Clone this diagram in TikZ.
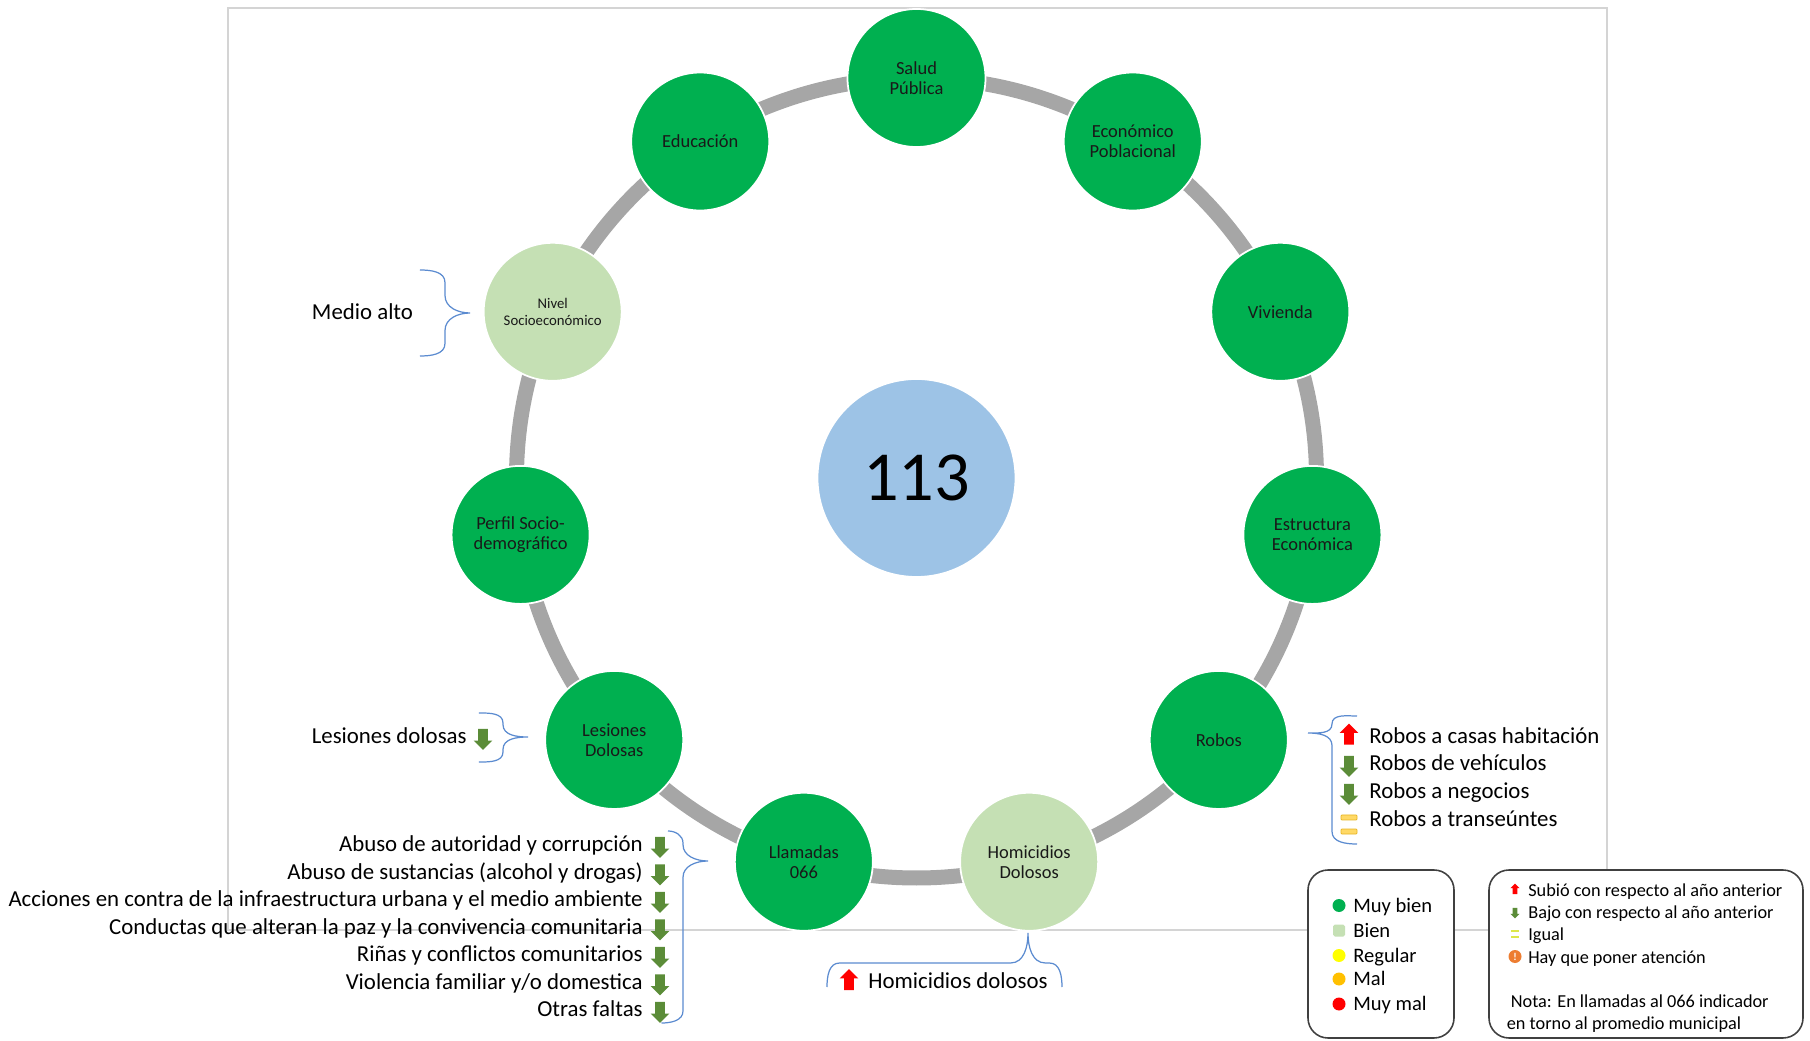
\documentclass[tikz,border=0pt]{standalone}
\usepackage{fontspec}
\setmainfont{Carlito}
\usepackage{xcolor}
\definecolor{ringGreen}{HTML}{00B050}
\definecolor{ringGreenLight}{HTML}{C5E0B4}
\definecolor{centerBlue}{HTML}{9DC3E6}
\definecolor{ringGray}{HTML}{A6A6A6}
\definecolor{frameGray}{HTML}{D4D4D4}
\definecolor{braceBlue}{HTML}{5B8BD0}
\definecolor{iconGreen}{HTML}{5B8C38}
\definecolor{iconRed}{HTML}{FF0000}
\definecolor{iconYellow}{HTML}{FFD966}
\definecolor{iconYellowDark}{HTML}{E6B422}
\definecolor{iconLime}{HTML}{DDE64B}
\definecolor{dotYellow}{HTML}{FFFF00}
\definecolor{dotOrange}{HTML}{FFC000}
\definecolor{dotRed}{HTML}{FF0000}
\definecolor{alertOrange}{HTML}{ED7D31}
\definecolor{boxGray}{HTML}{404040}
\usepackage{tikz}
\usetikzlibrary{shapes.arrows}

\begin{document}
\begin{tikzpicture}[
  every node/.style={inner sep=0pt, font=\fontsize{13}{15.6}\selectfont},
  ringnode/.style={circle, draw=white, line width=1pt, fill=ringGreen, minimum size=2.76cm,
    align=center, text=black!90, font=\fontsize{10.5}{11.5}\selectfont},
  ringlight/.style={ringnode, fill=ringGreenLight},
  llave/.style={braceBlue, line width=0.7pt},
  listtxt/.style={text height=0.85em, text depth=0.1em},
  baja/.style={single arrow, shape border rotate=270, fill=iconGreen, minimum height=0.42cm,
    minimum width=0.36cm, inner sep=0.09cm, single arrow head extend=0.09cm},
  sube/.style={baja, shape border rotate=90, fill=iconRed},
  igualbar/.style={rectangle, rounded corners=0.5pt, fill=iconYellow, draw=iconYellowDark,
    line width=0.4pt, minimum width=0.32cm, minimum height=0.1cm},
  legdot/.style={circle, minimum size=0.26cm},
  legtxt/.style={anchor=west, text height=0.85em, text depth=0.1em, font=\fontsize{11.7}{14}\selectfont},
  notatxt/.style={anchor=west, text height=0.85em, text depth=0.1em, font=\fontsize{10.4}{12.2}\selectfont},
  minisube/.style={single arrow, shape border rotate=90, fill=iconRed, minimum height=0.21cm,
    minimum width=0.17cm, inner sep=0.04cm, single arrow head extend=0.045cm},
  minibaja/.style={minisube, shape border rotate=270, fill=iconGreen},
  legbox/.style={draw=boxGray, line width=0.9pt, rounded corners=0.4cm, fill=white, minimum height=3.36cm}
]
  \useasboundingbox (-18.33,-11.26) rectangle (17.87,9.56);

  % Frame
  \draw[frameGray, line width=0.6pt] (-13.77,-9.04) rectangle (13.81,9.40);

  % Ring
  \draw[ringGray, line width=0.3cm] (0,0) circle (8cm);
  \node[circle, draw=white, line width=1pt, fill=centerBlue, minimum size=3.96cm,
        font=\fontsize{40}{40}\selectfont] (total) at (0,0) {113};

  \node[ringnode] (salud) at (90:8) {Salud\\Pública};
  \node[ringnode] (economico) at (57.27:8) {Económico\\Poblacional};
  \node[ringnode] (vivienda) at (24.55:8) {Vivienda};
  \node[ringnode] (estructura) at (-8.18:8) {Estructura\\Económica};
  \node[ringnode] (robos) at (-40.91:8) {Robos};
  \node[ringlight] (homicidios) at (-73.64:8) {Homicidios\\Dolosos};
  \node[ringnode] (llamadas) at (-106.36:8) {Llamadas\\066};
  \node[ringnode] (lesiones) at (-139.09:8) {Lesiones\\Dolosas};
  \node[ringnode] (perfil) at (188.18:8) {Perfil Socio-\\demográfico};
  \node[ringlight, font=\fontsize{8.4}{10}\selectfont] (nivel) at (155.45:8) {Nivel\\Socioeconómico};
  \node[ringnode] (educacion) at (122.73:8) {Educación};

  % Nivel socioeconomico
  \node[listtxt] (medio) at (-11.08,3.30) {Medio alto};
  \draw[llave] (-9.93,4.16) to[out=0,in=90] (-9.43,3.91) -- (-9.43,3.65) to[out=-90,in=180] (-8.93,3.30)
    to[out=180,in=90] (-9.43,2.95) -- (-9.43,2.69) to[out=-90,in=0] (-9.93,2.44);

  % Lesiones dolosas
  \node[listtxt, anchor=east] (lesTxt) at (-8.99,-5.18) {Lesiones dolosas};
  \node[baja] (lesF) at (-8.67,-5.18) {};
  \draw[llave] (-8.75,-4.70) to[out=0,in=90] (-8.27,-4.90) -- (-8.27,-4.93) to[out=-90,in=180] (-7.77,-5.18)
    to[out=180,in=90] (-8.27,-5.43) -- (-8.27,-5.48) to[out=-90,in=0] (-8.75,-5.68);

  % Llamadas 066 list
  \node[listtxt, anchor=east] (abuso) at (-5.47,-7.34) {Abuso de autoridad y corrupción};
  \node[listtxt, anchor=east] (sustancias) at (-5.47,-7.89) {Abuso de sustancias (alcohol y drogas)};
  \node[listtxt, anchor=east] (acciones) at (-5.47,-8.44) {Acciones en contra de la infraestructura urbana y el medio ambiente};
  \node[listtxt, anchor=east] (conductas) at (-5.47,-8.99) {Conductas que alteran la paz y la convivencia comunitaria};
  \node[listtxt, anchor=east] (rinas) at (-5.47,-9.54) {Riñas y conflictos comunitarios};
  \node[listtxt, anchor=east] (violencia) at (-5.47,-10.09) {Violencia familiar y/o domestica};
  \node[listtxt, anchor=east] (otras) at (-5.47,-10.64) {Otras faltas};
  \node[baja] (abusoF) at (-5.13,-7.34) {};
  \node[baja] (sustanciasF) at (-5.13,-7.89) {};
  \node[baja] (accionesF) at (-5.13,-8.44) {};
  \node[baja] (conductasF) at (-5.13,-8.99) {};
  \node[baja] (rinasF) at (-5.13,-9.54) {};
  \node[baja] (violenciaF) at (-5.13,-10.09) {};
  \node[baja] (otrasF) at (-5.13,-10.64) {};
  \draw[llave] (-4.97,-7.06) to[out=0,in=90] (-4.67,-7.30) -- (-4.67,-7.33) to[out=-90,in=180] (-4.17,-7.66)
    to[out=180,in=90] (-4.67,-7.99) -- (-4.67,-10.66) to[out=-90,in=0] (-5.10,-10.90);

  % Homicidios dolosos
  \node[sube] (homF) at (-1.35,-10.08) {};
  \node[listtxt, anchor=west] (homTxt) at (-0.97,-10.08) {Homicidios dolosos};
  \draw[llave] (-1.79,-10.18) to[out=90,in=180] (-1.54,-9.70) -- (1.88,-9.70) to[out=0,in=-90] (2.23,-9.10)
    to[out=-90,in=180] (2.58,-9.70) -- (2.66,-9.70) to[out=0,in=90] (2.91,-10.18);

  % Robos list
  \node[sube] (casasF) at (8.65,-5.17) {};
  \node[listtxt, anchor=west] (casas) at (9.05,-5.17) {Robos a casas habitación};
  \node[baja] (vehiculosF) at (8.65,-5.72) {};
  \node[listtxt, anchor=west] (vehiculos) at (9.05,-5.72) {Robos de vehículos};
  \node[baja] (negociosF) at (8.65,-6.28) {};
  \node[listtxt, anchor=west] (negocios) at (9.05,-6.28) {Robos a negocios};
  \node[igualbar] (transA) at (8.65,-6.79) {};
  \node[igualbar] (transB) at (8.65,-7.07) {};
  \node[listtxt, anchor=west] (transeuntes) at (9.05,-6.84) {Robos a transeúntes};
  \draw[llave] (8.81,-4.76) to[out=180,in=90] (8.31,-4.92) to[out=-90,in=0] (7.83,-5.10)
    to[out=0,in=90] (8.31,-5.35) -- (8.31,-7.07) to[out=-90,in=180] (8.81,-7.32);

  % Legend colours
  \node[legbox, minimum width=2.92cm] (leyColor) at (9.29,-9.52) {};
  \node[legdot, fill=ringGreen] (dMuyBien) at (8.45,-8.55) {};
  \node[legtxt] (tMuyBien) at (8.73,-8.55) {Muy bien};
  \node[rectangle, rounded corners=1pt, minimum size=0.24cm, fill=ringGreenLight] (dBien) at (8.45,-9.05) {};
  \node[legtxt] (tBien) at (8.73,-9.05) {Bien};
  \node[legdot, fill=dotYellow] (dRegular) at (8.45,-9.55) {};
  \node[legtxt] (tRegular) at (8.73,-9.55) {Regular};
  \node[legdot, fill=dotOrange] (dMal) at (8.45,-10.02) {};
  \node[legtxt] (tMal) at (8.73,-10.02) {Mal};
  \node[legdot, fill=dotRed] (dMuyMal) at (8.45,-10.52) {};
  \node[legtxt] (tMuyMal) at (8.73,-10.52) {Muy mal};

  % Legend arrows
  \node[legbox, minimum width=6.28cm] (leyFlecha) at (14.59,-9.52) {};
  \node[minisube] (iSube) at (11.97,-8.24) {};
  \node[notatxt] (tSube) at (12.23,-8.24) {Subió con respecto al año anterior};
  \node[minibaja] (iBaja) at (11.97,-8.68) {};
  \node[notatxt] (tBaja) at (12.23,-8.68) {Bajo con respecto al año anterior};
  \node[rectangle, fill=iconLime, minimum width=0.16cm, minimum height=0.04cm] (iIgualA) at (11.97,-9.06) {};
  \node[rectangle, fill=iconLime, minimum width=0.16cm, minimum height=0.04cm] (iIgualB) at (11.97,-9.18) {};
  \node[notatxt] (tIgual) at (12.23,-9.12) {Igual};
  \node[circle, fill=alertOrange, minimum size=0.26cm, text=white,
        font=\fontsize{6}{6}\selectfont\bfseries] (iAtencion) at (11.97,-9.57) {!};
  \node[notatxt] (tAtencion) at (12.23,-9.57) {Hay que poner atención};
  \node[notatxt, align=left, text height=, text depth=] (nota) at (11.80,-10.71)
    {\hspace{0.08cm}Nota: En llamadas al 066 indicador\\en torno al promedio municipal};
\end{tikzpicture}
\end{document}
